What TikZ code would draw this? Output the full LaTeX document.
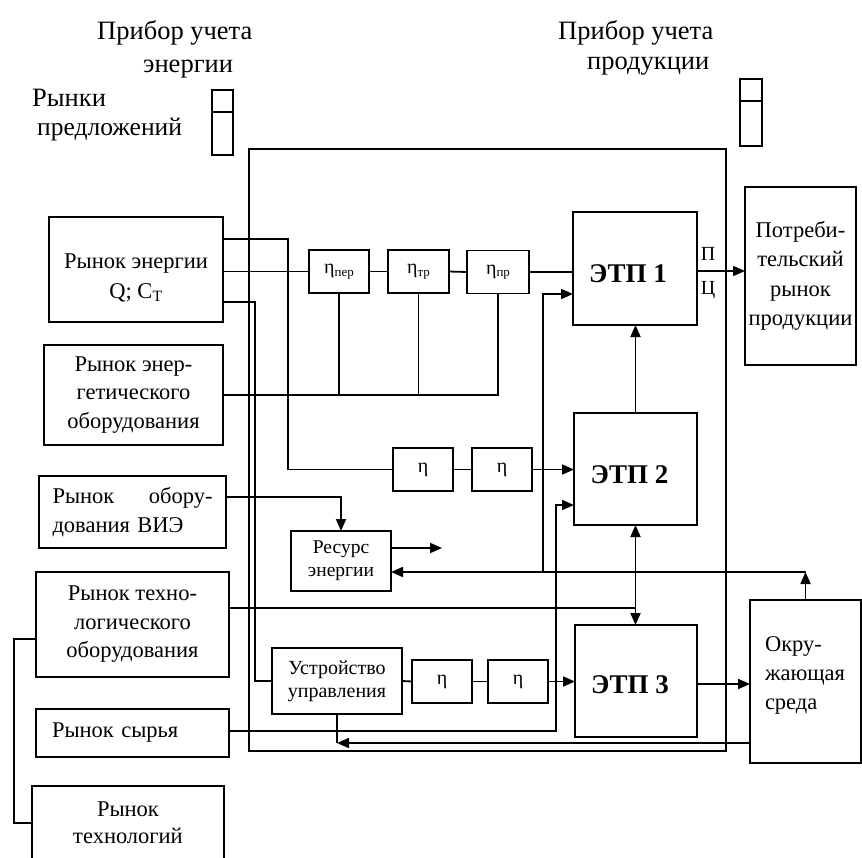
\documentclass[tikz,border=0pt]{standalone}
\usepackage{fontspec}
\setmainfont{Liberation Serif}
\usetikzlibrary{arrows.meta}
\newcommand{\subs}[1]{\raisebox{-2.5pt}{\fontsize{13}{13}\selectfont #1}}
\newcommand{\shiftbox}[3]{\raisebox{#1}[\height][\depth]{\begin{tabular}{@{}#2@{}}#3\end{tabular}}}
\begin{document}
\begin{tikzpicture}[x=1pt,y=-1pt,
  box/.style={draw, line width=1.8pt, inner sep=0pt, outer sep=0pt, align=center,
    font=\fontsize{22.5}{28.5}\selectfont},
  ebox/.style={box, minimum width=60pt, minimum height=43pt, font=\fontsize{20}{20}\selectfont},
  meter/.style={draw, line width=1.8pt, inner sep=0pt, outer sep=0pt},
  lbl/.style={inner sep=0pt, font=\fontsize{26.5}{28}\selectfont},
  etp/.style={box, font=\fontsize{27}{28}\selectfont\bfseries},
  ln/.style={line width=1.8pt},
  thinln/.style={line width=1.1pt},
  arr/.style={line width=1.8pt, -{Triangle[length=12pt,width=10pt]}},
  arrb/.style={line width=1.8pt, {Triangle[length=12pt,width=10pt]}-{Triangle[length=12pt,width=10pt]}}
]
\useasboundingbox (0,0) rectangle (862,857);

% header texts
\node[lbl, anchor=base west] (h1a) at (97,39) {Прибор учета};
\node[lbl, anchor=base west] (h1b) at (143,72) {энергии};
\node[lbl, anchor=base west] (h2a) at (558,39) {Прибор учета};
\node[lbl, anchor=base west] (h2b) at (587,69) {продукции};
\node[lbl, anchor=base west] (h3a) at (32,106) {Рынки};
\node[lbl, anchor=base west, font=\fontsize{25.5}{28}\selectfont] (h3b) at (37,135) {предложений};

% meters
\node[meter, minimum width=21pt, minimum height=65pt] (mE) at (222.5,122.5) {};
\draw[ln] (mE.west |- 0,112) -- (mE.east |- 0,112);
\node[meter, minimum width=22pt, minimum height=67pt] (mP) at (751,112.5) {};
\draw[ln] (mP.west |- 0,101) -- (mP.east |- 0,101);

% outer frame
\node[meter, minimum width=477pt, minimum height=602pt] (frame) at (487.5,450) {};

% left markets
\node[box, minimum width=174pt, minimum height=105pt, font=\fontsize{22.5}{30}\selectfont] (enm) at (136,269.5)
  {\shiftbox{-8pt}{c}{Рынок энергии\\Q; C\textsubscript{Т}}};
\node[box, minimum width=179pt, minimum height=100pt] (eqm) at (133.5,395)
  {Рынок энер-\\гетического\\оборудования};
\node[box, align=left, text width=160pt, inner xsep=13.5pt, minimum height=72pt] (vie) at (132.5,512)
  {\makebox[160pt][l]{Рынок\hfill обору-}\\дования ВИЭ};
\node[box, minimum width=193pt, minimum height=105pt] (tech) at (132.5,624.5)
  {Рынок техно-\\логического\\оборудования};
\node[box, align=left, text width=161pt, inner xsep=16pt, minimum height=48pt] (raw) at (132.5,733)
  {Рынок сырья};
\draw[ln] (32,858) |- (224,786) -- (224,858);
\node[inner sep=0pt, align=center, font=\fontsize{22.5}{27}\selectfont] (techn) at (128,823) {Рынок\\технологий};
\coordinate (technL) at (32,823);

% efficiency chain 1
\node[ebox] (eta1) at (339,271.5) {η\subs{пер}};
\node[ebox, minimum width=61pt] (eta2) at (418.5,271.5) {η\subs{тр}};
\node[ebox, minimum width=62pt] (eta3) at (498,272) {η\subs{пр}};

% stages
\node[etp, minimum width=124pt, minimum height=113pt] (etp1) at (635,268.5)
  {\raisebox{-5pt}[\height][\depth]{ЭТП 1}\hspace*{14pt}};
\node[etp, minimum width=123pt, minimum height=112pt] (etp2) at (635.5,469)
  {\raisebox{-6pt}[\height][\depth]{ЭТП 2}\hspace*{12pt}};
\node[etp, minimum width=122pt, minimum height=112pt] (etp3) at (636,681)
  {\raisebox{-4pt}[\height][\depth]{ЭТП 3}\hspace*{12pt}};

% consumer market
\node[box, minimum width=111pt, minimum height=178pt, font=\fontsize{22.5}{29.3}\selectfont] (cons) at (800.5,276)
  {Потреби-\\тельский\\рынок\\продукции};
\node[inner sep=0pt, font=\fontsize{20}{22}\selectfont] (P) at (708,254) {П};
\node[inner sep=0pt, font=\fontsize{20}{22}\selectfont] (C) at (708,290) {Ц};

% chain 2
\node[ebox] (e21) at (423,469.5) {η};
\node[ebox] (e22) at (502,469.5) {η};

% resource
\node[box, minimum width=100pt, minimum height=60pt, font=\fontsize{19.5}{23}\selectfont] (res) at (341,561)
  {Ресурс\\энергии};
\coordinate (resout) at (442,548);

% control & chain 3
\node[box, minimum width=130pt, minimum height=66pt, font=\fontsize{20}{23}\selectfont] (ctrl) at (337,681)
  {Устройство\\управления};
\node[ebox] (e31) at (442,681.5) {η};
\node[ebox] (e32) at (518,681.5) {η};

% environment
\node[box, align=left, text width=81pt, inner xsep=15pt, minimum height=163pt,
  font=\fontsize{22.5}{29}\selectfont] (env) at (805.5,681.5)
  {\shiftbox{7pt}{l}{Окру-\\жающая\\среда}};

% ---- connectors ----
% energy market outputs
\draw[ln] (e21.west) -| (288,239) -- (enm.east |- 0,239);
\draw[ln] (enm.east |- eta1.west) -- (eta1.west);
\draw[ln] (eta1.east) -- (eta2.west);
\draw[ln] (eta2.east) -- (eta3.west);
\draw[ln] (eta3.east) -- (eta3.east -| etp1.west);
\draw[ln] (ctrl.west) -| (255,302) -- (enm.east |- 0,302);

% energy equipment market
\draw[ln] (eqm.east) -| (eta3.south);
\draw[thinln] (eta1.south) -- (eta1.south |- eqm.east);
\draw[thinln] (eta2.south) -- (eta2.south |- eqm.east);

% chain 2
\draw[ln] (e21.east) -- (e22.west);
\draw[arr] (e22.east) -- (e22.east -| etp2.west);

% RES equipment
\draw[arr] (vie.east |- 0,497) -| (res.north);
\draw[arr] (res.east |- resout) -- (resout);

% environment feedback
\draw[arr] (env.north) -- (env.north |- 0,572);
\draw[arr] (env.north |- 0,572) -- (res.east |- 0,572);
\draw[arr] (543,572) |- (etp1.west |- 0,294);

% technology equipment
\draw[ln] (tech.east |- 0,608) -- (etp2.south |- 0,608);
\draw[arrb] (etp2.south) -- (etp2.south |- etp3.north);
\draw[arr] (etp2.north) -- (etp2.north |- etp1.south);
\draw[ln] (tech.west |- 0,639) -| (14,823) -- (technL);

% raw market
\draw[arr] (raw.east |- 0,731) -| (556,505) -- (etp2.west |- 0,505);

% chain 3
\draw[ln] (ctrl.east) -- (e31.west);
\draw[ln] (e31.east) -- (e32.west);
\draw[arr] (e32.east) -- (e32.east -| etp3.west);
\draw[ln] (ctrl.south) -- (ctrl.south |- 0,743);
\draw[arr] (env.west |- 0,743) -- (ctrl.south |- 0,743);

% outputs
\draw[arr] (etp3.east |- 0,684) -- (env.west |- 0,684);
\draw[arr] (etp1.east |- 0,271) -- (cons.west |- 0,271);
\end{tikzpicture}
\end{document}
